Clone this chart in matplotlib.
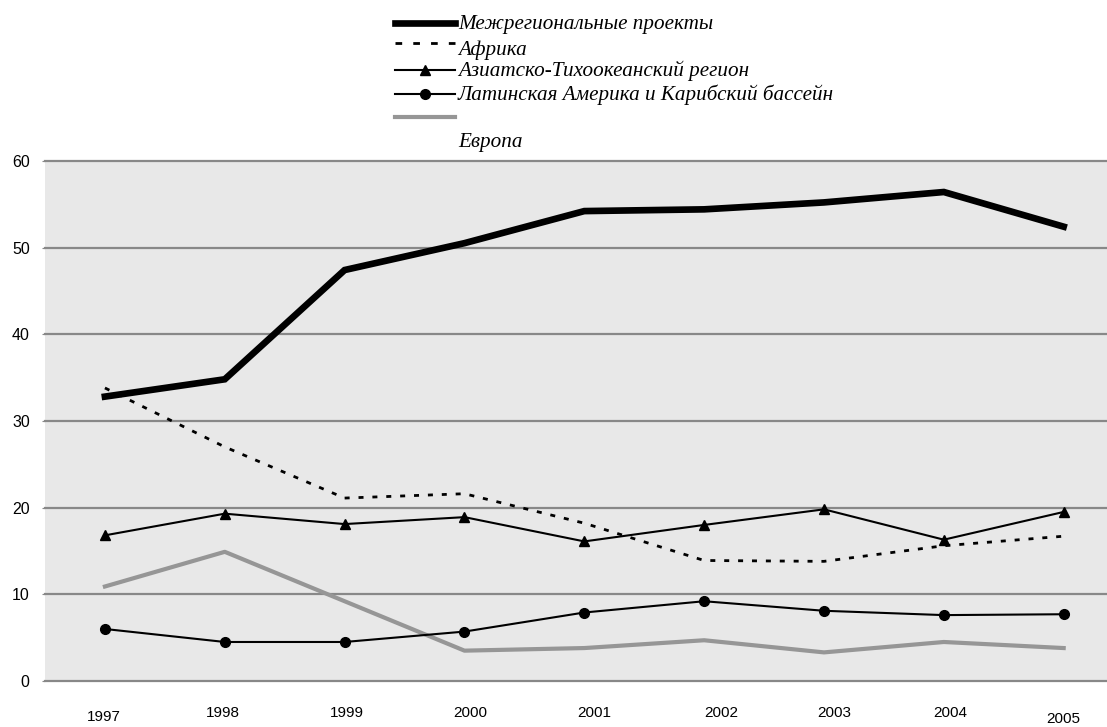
import matplotlib
matplotlib.use('Agg')
import matplotlib.pyplot as plt
from matplotlib.lines import Line2D
from matplotlib.transforms import ScaledTranslation

years = ['1997', '1998', '1999', '2000', '2001', '2002', '2003', '2004', '2005']
interregional = [32.8, 34.8, 47.4, 50.5, 54.2, 54.4, 55.2, 56.4, 52.4]
africa = [33.8, 27.0, 21.1, 21.6, 18.2, 13.9, 13.8, 15.6, 16.7]
asia_pacific = [16.8, 19.3, 18.1, 18.9, 16.1, 18.0, 19.8, 16.3, 19.5]
latin_america = [6.0, 4.5, 4.5, 5.7, 7.9, 9.2, 8.1, 7.6, 7.7]
europe = [10.9, 14.9, 9.2, 3.5, 3.8, 4.7, 3.3, 4.5, 3.8]

series_names = ['Межрегиональные проекты', 'Африка', 'Азиатско-Тихоокеанский регион',
                'Латинская Америка и Карибский бассейн', 'Европа']

W, H = 1107, 727
fig = plt.figure(figsize=(W / 100, H / 100), dpi=100)
# plot area runs a bit past the right edge of the picture, as in the original
ax = fig.add_axes([45 / W, 46 / H, 1078.6 / W, 520.2 / H])
ax.set_facecolor('#e8e8e8')

x = list(range(len(years)))
styles = [
    dict(color='black', lw=4.8, solid_joinstyle='miter'),
    dict(color='black', lw=2.0, linestyle=(0, (1.8, 3.2))),
    dict(color='black', lw=1.5, marker='^', markersize=6.5),
    dict(color='black', lw=1.5, marker='o', markersize=7),
    dict(color='#969696', lw=3.0),
]

ax.plot(x, europe, **styles[4], zorder=3)
ax.plot(x, latin_america, **styles[3], zorder=4)
ax.plot(x, asia_pacific, **styles[2], zorder=4)
ax.plot(x, africa, **styles[1], zorder=5)
ax.plot(x, interregional, **styles[0], zorder=6)

ax.set_xlim(-0.5, 8.5)
ax.set_ylim(0, 60)
ax.set_yticks(range(0, 61, 10))
ax.yaxis.grid(True, color='#888888', lw=1.6)
ax.set_axisbelow(True)
for gl in ax.get_ygridlines():
    gl.set_clip_on(False)
for s in ax.spines.values():
    s.set_visible(False)

ax.tick_params(axis='y', length=2, color='#888888', pad=9, labelsize=11.5)
ax.set_xticks(x)
ax.set_xticklabels(years)
ax.tick_params(axis='x', length=0, pad=18, labelsize=11)
for lab in ax.get_yticklabels() + ax.get_xticklabels():
    lab.set_fontfamily('Liberation Sans')

# the year labels in the original sit a little unevenly
dx = [-1.5, -2, 2, 6, 10, 17, 10, 6, 0]
dy = [4, 0, 0, 0, 0, 0, 0, 0, 6]
for lab, a, b in zip(ax.get_xticklabels(), dx, dy):
    lab.set_transform(lab.get_transform() + ScaledTranslation(a / 100, -b / 100, fig.dpi_scale_trans))

# legend drawn by hand at the top
line_y = [22.7, 42.7, 70, 94, 117.3]
text_y = [29.3, 55, 76, 100, 146.7]
for i, (st, ly, ty, name) in enumerate(zip(styles, line_y, text_y, series_names)):
    st = dict(st)
    if i == 1:
        st['linestyle'] = (0, (2.4, 4.0))
    if 'marker' in st:
        st['markevery'] = [1]
        xs = [395, 425, 455]
    else:
        xs = [395, 455]
    fig.add_artist(Line2D([v / W for v in xs], [1 - ly / H] * len(xs),
                          transform=fig.transFigure, **st))
    fig.text(458 / W, 1 - ty / H, name, family='Liberation Serif', style='italic',
             fontsize=15.2, va='baseline', ha='left')

fig.savefig('out.png', dpi=100)
